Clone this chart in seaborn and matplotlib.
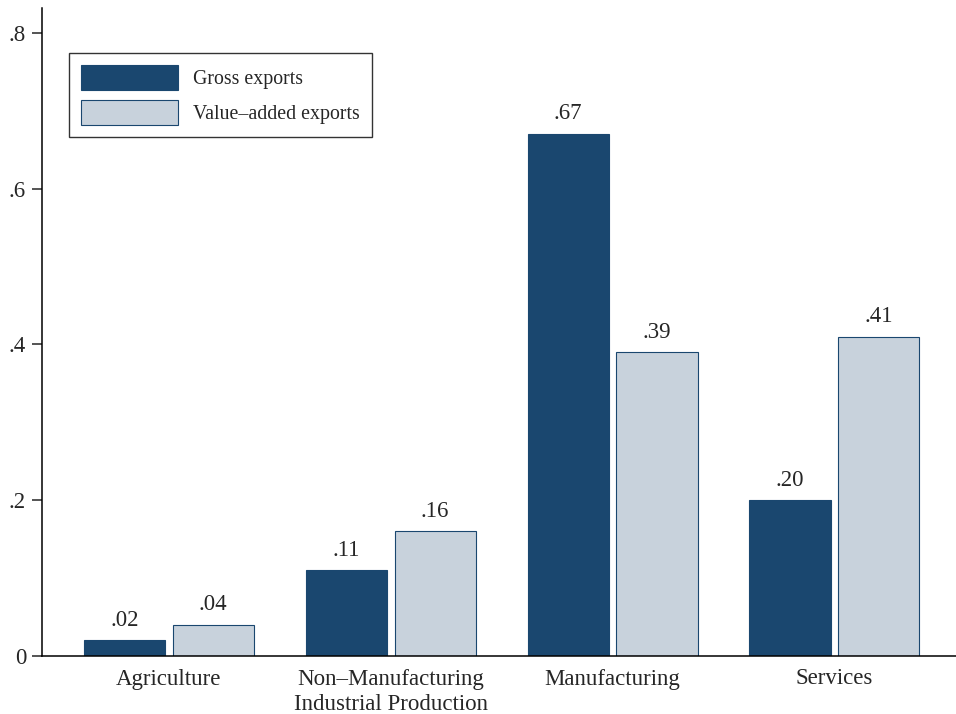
import pandas as pd
import numpy as np
import seaborn as sns
import matplotlib.pyplot as plt

## Data
sectors = ["Agriculture", "Non\u2013Manufacturing\nIndustrial Production", "Manufacturing", "Services"]
gross = [0.02, 0.11, 0.67, 0.20]
value_added = [0.04, 0.16, 0.39, 0.41]
series = ["Gross exports", "Value\u2013added exports"]
yticks = [0, 0.2, 0.4, 0.6, 0.8]
ytick_labels = ["0", ".2", ".4", ".6", ".8"]

df = pd.DataFrame({
    "sector": sectors * 2,
    "share": gross + value_added,
    "series": [series[0]] * 4 + [series[1]] * 4,
})

sns.set_style("white")
plt.rcParams["font.family"] = ["Liberation Serif", "DejaVu Serif"]

dark = "#1a476f"
light = "#c8d2dc"
fs = 16.5

fig = plt.figure(figsize=(9.56, 7.14), dpi=100)
ax = fig.add_axes([42 / 956, 58 / 714, 914 / 956, 648 / 714])

sns.barplot(data=df, x="sector", y="share", hue="series", order=sectors,
            hue_order=series, palette=[dark, light], width=0.8, gap=0.085,
            saturation=1, ax=ax)

# thin outlines like the original
for patch in ax.patches:
    patch.set_edgecolor(dark)
    patch.set_linewidth(0.8)

# value labels on top of bars
for cont in ax.containers:
    ax.bar_label(cont, labels=[("%.2f" % v.get_height()).lstrip("0") for v in cont],
                 padding=7, fontsize=fs)

ax.set_xlim(-0.572, 3.548)
ax.set_ylim(0, 0.832)
ax.set_yticks(yticks)
ax.set_yticklabels(ytick_labels, fontsize=fs)
ax.tick_params(axis="y", length=7.5, width=1.1, pad=4, direction="out", left=True)
ax.tick_params(axis="x", length=0, labelsize=fs, pad=9)
for lab in ax.get_xticklabels():
    lab.set_linespacing(1.25)
ax.set_xlabel("")
ax.set_ylabel("")

for s in ["top", "right"]:
    ax.spines[s].set_visible(False)
ax.spines["left"].set_color("black")
ax.spines["bottom"].set_color("black")
ax.spines["left"].set_linewidth(1.1)
ax.spines["bottom"].set_linewidth(1.1)

leg = ax.legend(loc="upper left", bbox_to_anchor=(0.0295, 0.931), fontsize=14.3,
                frameon=True, fancybox=False, edgecolor="black", handlelength=4.9,
                handleheight=1.55, borderpad=0.6, labelspacing=0.55, handletextpad=0.75,
                borderaxespad=0)
leg.get_frame().set_linewidth(1.0)

fig.savefig("out.png", dpi=100)
